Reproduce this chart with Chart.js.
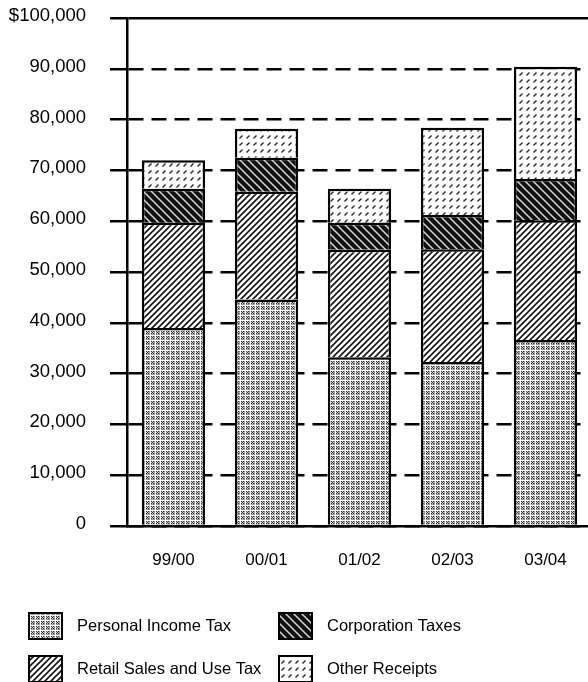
<!DOCTYPE html>
<html>
<head>
<meta charset="utf-8">
<script src="https://cdn.jsdelivr.net/npm/chart.js@4/dist/chart.umd.min.js"></script>
<style>
	html, body { margin: 0; padding: 0; background: #fff; overflow: hidden; }
	canvas { display: block; }
</style>
</head>
<body>
<canvas id="receipts" width="592" height="682"></canvas>
<script>
// values, dollars (thousands)
var years = ['99/00', '00/01', '01/02', '02/03', '03/04'];
var personalIncome = [39000, 44600, 33200, 32300, 36600];
var retailSales = [20700, 21200, 21200, 22200, 23600];
var corporation = [6700, 6700, 5300, 6700, 8100];
var otherReceipts = [5600, 5700, 6700, 17200, 22100];
var yTickLabels = ['0', '10,000', '20,000', '30,000', '40,000', '50,000',
	'60,000', '70,000', '80,000', '90,000', '$100,000'];

var FONT = 'Liberation Sans, Arial, Helvetica, sans-serif';
var canvas = document.getElementById('receipts');
var mainCtx = canvas.getContext('2d');

function makePattern(size, draw) {
	var tile = document.createElement('canvas');
	tile.width = size;
	tile.height = size;
	var g = tile.getContext('2d');
	g.fillStyle = '#fff';
	g.fillRect(0, 0, size, size);
	draw(g, size);
	return mainCtx.createPattern(tile, 'repeat');
}

function stroke(g, pts, color, w) {
	g.strokeStyle = color;
	g.lineWidth = w;
	g.beginPath();
	for (var i = 0; i < pts.length; i += 4) {
		g.moveTo(pts[i], pts[i + 1]);
		g.lineTo(pts[i + 2], pts[i + 3]);
	}
	g.stroke();
}

function dots(g, color, pts) {
	g.fillStyle = color;
	pts.forEach(function(p) { g.fillRect(p[0], p[1], 1, 1); });
}

// small grey x-dots on a white grid
var personalFill = makePattern(5, function(g) {
	g.fillStyle = '#999';
	g.fillRect(1, 1, 4, 4);
	dots(g, '#2e2e2e', [[1, 1], [3, 1], [2, 2], [1, 3], [3, 3]]);
	dots(g, '#cfcfcf', [[2, 1], [1, 2], [3, 2], [2, 3]]);
});
// thin forward diagonals
var retailFill = makePattern(6, function(g, s) {
	stroke(g, [0, s, s, 0, -1, 1, 1, -1, s - 1, s + 1, s + 1, s - 1], '#111', 1.6);
});
// heavy back diagonals
var corpFill = makePattern(8, function(g, s) {
	g.fillStyle = '#111';
	g.fillRect(0, 0, s, s);
	stroke(g, [0, 0, s, s, -2, s - 2, 2, s + 2, s - 2, -2, s + 2, 2], '#d8d8d8', 1.5);
});
// sparse dashes
var otherFill = makePattern(7, function(g) {
	stroke(g, [1.5, 5.5, 4.5, 2.5], '#2a2a2a', 1.5);
});

// legend laid out in two columns, like the print original
var legendSlots = [
	{ x: 28, y: 612 },
	{ x: 28, y: 655 },
	{ x: 278, y: 612 },
	{ x: 278, y: 655 }
];
var gridLegend = {
	id: 'gridLegend',
	afterDraw: function(chart) {
		var ctx = chart.ctx;
		chart.data.datasets.forEach(function(ds, i) {
			var s = legendSlots[i];
			ctx.save();
			ctx.fillStyle = ds.backgroundColor;
			ctx.fillRect(s.x, s.y, 35, 28);
			ctx.lineWidth = 2;
			ctx.strokeStyle = '#000';
			ctx.strokeRect(s.x + 1, s.y + 1, 33, 26);
			ctx.fillStyle = '#000';
			ctx.font = '16.5px ' + FONT;
			ctx.textBaseline = 'middle';
			ctx.fillText(ds.label, s.x + 49, s.y + 14);
			ctx.restore();
		});
	}
};

function bar(label, data, fill) {
	return {
		label: label,
		data: data,
		backgroundColor: fill,
		borderColor: '#000',
		borderWidth: 2.5,
		barPercentage: 0.68,
		categoryPercentage: 1.0
	};
}

new Chart(canvas, {
	type: 'bar',
	data: {
		labels: years,
		datasets: [
			bar('Personal Income Tax', personalIncome, personalFill),
			bar('Retail Sales and Use Tax', retailSales, retailFill),
			bar('Corporation Taxes', corporation, corpFill),
			bar('Other Receipts', otherReceipts, otherFill)
		]
	},
	options: {
		responsive: false,
		animation: false,
		layout: { padding: { top: 18, bottom: 116, left: 0, right: 0 } },
		plugins: {
			legend: { display: false },
			tooltip: { enabled: false }
		},
		scales: {
			x: {
				stacked: true,
				grid: { display: false, drawTicks: false },
				border: { display: true, color: '#000', width: 2.5 },
				ticks: { color: '#000', padding: 24, maxRotation: 0, font: { family: FONT, size: 17 } },
				afterFit: function(scale) { scale.height = 40; }
			},
			y: {
				stacked: true,
				min: 0,
				max: 100000,
				ticks: {
					stepSize: 10000,
					padding: 24,
					labelOffset: -2,
					color: '#000',
					font: { family: FONT, size: 18.5 },
					callback: function(v, i) { return yTickLabels[i]; }
				},
				grid: {
					color: '#000',
					lineWidth: 2.5,
					tickLength: 17,
					tickWidth: 2.5,
					tickColor: '#000',
					tickBorderDash: []
				},
				border: {
					display: true,
					color: '#000',
					width: 2.5,
					dash: function(c) { return (!c.tick || c.tick.value === 100000) ? [] : [15, 8]; }
				},
				afterFit: function(scale) {
					scale.width = 127;
					scale.paddingTop = 0;
					scale.paddingBottom = 0;
				}
			}
		}
	},
	plugins: [gridLegend]
});
</script>
</body>
</html>
